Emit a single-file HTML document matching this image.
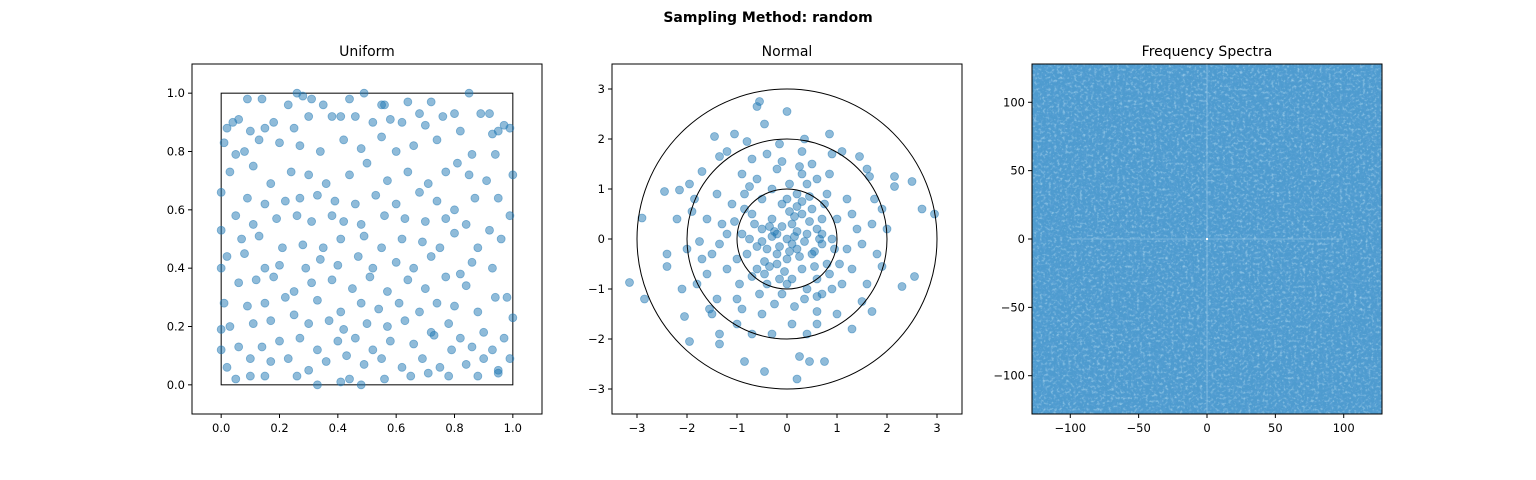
<!DOCTYPE html>
<html><head><meta charset="utf-8"><style>
body{margin:0;background:#fff;}
svg{display:block;font-family:"DejaVu Sans","Liberation Sans",sans-serif;}
</style></head><body>
<svg id="fig" width="1536" height="480" viewBox="0 0 1536 480">
<defs>
<filter id="noise" x="0" y="0" width="100%" height="100%" filterUnits="objectBoundingBox">
<feTurbulence type="fractalNoise" baseFrequency="0.3" numOctaves="2" seed="3" result="t"/>
<feColorMatrix in="t" type="matrix" values="0 0 0 0 0.1  0 0 0 0 0.35  0 0 0 0 0.66  3 0 0 0 -1.45"/>
</filter>
<filter id="noise2" x="0" y="0" width="100%" height="100%" filterUnits="objectBoundingBox">
<feTurbulence type="fractalNoise" baseFrequency="0.35" numOctaves="2" seed="11" result="t"/>
<feColorMatrix in="t" type="matrix" values="0 0 0 0 0.42  0 0 0 0 0.68  0 0 0 0 0.86  2 0 0 0 -1.05"/>
</filter>
<clipPath id="c1"><rect x="192" y="64" width="350" height="350"/></clipPath>
<clipPath id="c2"><rect x="612" y="64" width="350" height="350"/></clipPath>
</defs>
<text x="768" y="22" text-anchor="middle" font-size="14" font-weight="bold">Sampling Method: random</text>
<g id="p1"></g>
<g id="p2"></g>
<g id="p3"></g>
</svg>
<script>
const uniformX=[0.09,0.14,0.26,0.28,0.23,0.31,0.35,0.44,0.49,0.55,0.56,0.64,0.72,0.85,0.89,0.92,0.97,0.99,0.95,0.02,0.04,0.06,0.1,0.15,0.18,0.25,0.3,0.38,0.41,0.46,0.52,0.58,0.62,0.68,0.7,0.76,0.8,0.82,0.93,0.01,0.05,0.08,0.13,0.2,0.27,0.34,0.42,0.48,0.55,0.6,0.66,0.74,0.81,0.86,0.94,0.03,0.11,0.17,0.24,0.3,0.36,0.44,0.5,0.57,0.64,0.71,0.77,0.85,0.91,1.0,0.0,0.09,0.15,0.22,0.27,0.33,0.39,0.46,0.53,0.6,0.68,0.74,0.8,0.87,0.95,0.05,0.11,0.19,0.26,0.31,0.38,0.42,0.48,0.56,0.63,0.7,0.77,0.84,0.92,0.99,0.0,0.07,0.13,0.21,0.28,0.35,0.41,0.49,0.55,0.62,0.69,0.75,0.8,0.88,0.96,0.02,0.08,0.15,0.2,0.29,0.34,0.4,0.47,0.52,0.6,0.66,0.72,0.82,0.86,0.93,0.0,0.06,0.12,0.18,0.25,0.31,0.38,0.45,0.51,0.57,0.64,0.7,0.77,0.84,0.94,0.98,0.01,0.09,0.15,0.22,0.33,0.41,0.48,0.54,0.61,0.68,0.74,0.8,0.88,0.03,0.11,0.17,0.25,0.3,0.37,0.42,0.5,0.57,0.63,0.72,0.78,0.82,0.9,1.0,0.0,0.06,0.14,0.2,0.27,0.33,0.4,0.46,0.52,0.58,0.66,0.73,0.79,0.86,0.93,0.97,0.0,0.1,0.17,0.23,0.3,0.36,0.43,0.49,0.55,0.62,0.69,0.75,0.84,0.9,0.95,0.02,0.05,0.1,0.15,0.26,0.33,0.41,0.44,0.48,0.56,0.65,0.71,0.78,0.88,0.95,0.99];
const uniformY=[0.98,0.98,1.0,0.99,0.96,0.98,0.96,0.98,1.0,0.96,0.96,0.97,0.97,1.0,0.93,0.93,0.89,0.88,0.87,0.88,0.9,0.91,0.87,0.88,0.9,0.88,0.92,0.92,0.92,0.92,0.9,0.91,0.9,0.93,0.89,0.92,0.93,0.87,0.86,0.83,0.79,0.8,0.84,0.83,0.82,0.8,0.84,0.81,0.85,0.8,0.82,0.84,0.76,0.79,0.79,0.73,0.75,0.69,0.73,0.72,0.69,0.72,0.76,0.7,0.73,0.69,0.73,0.72,0.7,0.72,0.66,0.64,0.62,0.63,0.64,0.65,0.63,0.62,0.65,0.62,0.66,0.63,0.6,0.64,0.64,0.58,0.55,0.57,0.58,0.56,0.58,0.56,0.55,0.58,0.57,0.56,0.57,0.55,0.53,0.58,0.53,0.5,0.51,0.47,0.48,0.47,0.5,0.51,0.47,0.5,0.49,0.47,0.52,0.47,0.5,0.44,0.45,0.4,0.41,0.4,0.43,0.41,0.44,0.4,0.42,0.4,0.44,0.38,0.42,0.4,0.4,0.35,0.36,0.37,0.32,0.35,0.36,0.33,0.37,0.32,0.36,0.33,0.37,0.34,0.3,0.3,0.28,0.27,0.28,0.3,0.29,0.25,0.28,0.26,0.28,0.25,0.28,0.27,0.25,0.2,0.21,0.22,0.24,0.21,0.22,0.19,0.21,0.2,0.22,0.18,0.21,0.16,0.18,0.23,0.19,0.13,0.13,0.15,0.16,0.12,0.15,0.16,0.12,0.15,0.14,0.17,0.12,0.13,0.12,0.16,0.12,0.09,0.08,0.09,0.05,0.08,0.1,0.07,0.09,0.06,0.09,0.06,0.07,0.09,0.05,0.06,0.02,0.03,0.03,0.03,0.0,0.01,0.02,0.0,0.02,0.03,0.04,0.03,0.03,0.04,0.09];
const normalX=[-3.15,-2.9,-2.85,-2.45,-2.4,-2.4,-2.15,-2.1,-2.05,-1.95,-1.95,-1.9,-1.85,-1.75,-1.7,-1.45,-1.35,-1.55,-1.5,-1.35,-1.35,-1.2,-1.05,-1.0,-0.85,-0.8,-0.6,-0.55,-0.45,-0.45,-0.15,0.0,0.2,0.25,0.3,0.35,0.45,0.6,0.75,0.85,0.9,1.0,1.1,1.3,1.45,1.5,1.6,1.65,1.7,1.75,1.9,1.9,2.15,2.3,2.55,2.5,2.7,2.95,2.15,2.0,1.8,1.4,1.3,1.2,1.1,1.0,-1.1,-1.3,-1.5,-1.6,-1.2,-1.0,-0.9,-0.7,-0.5,-0.3,0.1,0.4,0.7,-1.8,-1.4,-2.2,-2.0,-0.9,-0.8,-0.7,-0.6,-0.5,-0.5,-0.4,-0.4,-0.3,-0.3,-0.2,-0.2,-0.1,-0.1,0.0,0.0,0.1,0.1,0.2,0.2,0.3,0.3,0.4,0.4,0.5,0.5,0.6,0.6,0.7,0.7,0.8,0.8,0.9,-0.6,-0.2,0.3,0.6,-1.0,-1.2,0.95,-0.15,0.15,-0.35,0.25,0.05,-0.05,0.45,-0.45,-0.75,0.55,-0.25,0.15,0.35,-0.55,-0.85,0.05,0.45,1.2,1.3,-1.4,-1.6,0.9,-0.95,0.1,-0.1,0.2,-0.2,0.35,-0.3,0.65,-0.6,0.0,0.0,0.75,-0.7,1.5,-1.35,0.85,-0.9,0.5,-0.4,0.6,-0.7,1.6,-1.7,1.7,-0.1,0.25,-0.65,0.55,-0.35,0.15,0.85,-0.85,0.4,-0.25,0.05,-0.5,0.3,0.7,-0.15,0.6,-0.75,1.05,-1.05,0.2,-0.45];
const normalY=[-0.87,0.42,-1.2,0.95,-0.3,-0.55,0.98,-1.0,-1.55,-2.05,1.1,0.55,0.8,-0.05,1.35,2.05,1.65,-1.4,-1.5,-2.1,-1.9,1.75,2.1,-1.7,-2.45,1.95,2.65,2.75,2.3,-2.65,1.9,2.55,-2.8,-2.35,1.75,2.0,-2.45,-1.45,-2.45,2.1,1.7,-1.5,1.75,-1.8,1.65,-1.25,1.4,1.25,-1.45,0.8,-0.55,0.6,1.25,-0.95,-0.75,1.15,0.6,0.5,1.05,0.2,-0.3,0.2,-0.6,0.8,-0.9,0.4,0.7,0.3,-0.3,-0.7,-0.6,-1.2,1.3,1.6,-1.5,-1.9,-1.7,-1.9,-1.1,-0.9,-1.2,0.4,-0.2,0.1,-0.3,0.5,-0.6,0.2,0.8,-0.2,-0.9,0.4,1.0,-0.5,0.1,0.7,-1.1,0.0,-0.4,0.3,-0.8,0.9,-0.2,0.5,-0.6,0.1,-1.0,0.6,-0.3,0.2,-0.8,0.4,-0.1,0.9,-0.5,0.0,1.2,1.4,1.3,1.2,-0.4,0.1,-0.2,-0.15,0.05,0.25,-0.35,0.55,-0.65,0.35,-0.45,0.0,-0.55,-1.3,-1.35,-1.2,-1.1,0.9,1.1,0.85,-0.2,0.5,0.9,0.4,-1.0,-0.9,-0.1,0.25,0.15,-0.3,-0.05,0.05,0.0,-0.15,0.8,-0.9,0.7,-0.75,-0.1,-0.1,1.3,-1.4,1.5,1.7,-1.7,-1.9,-0.9,-0.4,0.3,1.55,1.45,0.3,-0.25,-0.55,0.45,-0.7,0.6,1.1,0.15,-0.25,-0.05,0.75,0.1,-0.8,-1.15,1.05,-0.5,0.35,0.65,-0.7];
const uTicks=[0,0.2,0.4,0.6,0.8,1.0];
const uTickLabels=["0.0","0.2","0.4","0.6","0.8","1.0"];
const nTicks=[-3,-2,-1,0,1,2,3];
const nTickLabels=["−3","−2","−1","0","1","2","3"];
const circleRadii=[1,2,3];
const sTicks=[-100,-50,0,50,100];
const sTickLabels=["−100","−50","0","50","100"];

const NS="http://www.w3.org/2000/svg";
function mk(tag,attrs,parent){const e=document.createElementNS(NS,tag);for(const k in attrs)e.setAttribute(k,attrs[k]);parent.appendChild(e);return e;}
function lin(d0,d1,r0,r1){return v=>r0+(v-d0)/(d1-d0)*(r1-r0);}
const L=[192,612,1032],T=64,S=350;

function axes(g,x0,xs,ys,ticks,labels,tickY,labelsY,pre){
  mk('rect',{x:x0,y:T,width:S,height:S,fill:'none',stroke:'#000','stroke-width':1},g);
  ticks.forEach((t,i)=>{
    const px=xs(t);
    const tk=mk('line',{x1:px,x2:px,y1:T+S,y2:T+S+4,stroke:'#000'},g);
    
    
    const tx=mk('text',{x:px,y:T+S+18,'text-anchor':'middle','font-size':11.5},g);
    tx.textContent=labels[i];
    
    
  });
  tickY.forEach((t,i)=>{
    const py=ys(t);
    const tk=mk('line',{x1:x0-4,x2:x0,y1:py,y2:py,stroke:'#000'},g);
    
    
    const tx=mk('text',{x:x0-7,y:py+4,'text-anchor':'end','font-size':11.5},g);
    tx.textContent=labelsY[i];
    
    
  });
}
function title(g,x0,t,name){const e=mk('text',{x:x0+S/2,y:T-8,'text-anchor':'middle','font-size':14},g);e.textContent=t;}

(function(){
  const g=document.getElementById('p1');
  const xs=lin(-0.1,1.1,L[0],L[0]+S), ys=lin(-0.1,1.1,T+S,T);
  const sq=mk('rect',{x:xs(0),y:ys(1),width:xs(1)-xs(0),height:ys(0)-ys(1),fill:'none',stroke:'#000'},g);
  
  
  const pg=mk('g',{'clip-path':'url(#c1)'},g);
  uniformX.forEach((x,i)=>{
    const c=mk('circle',{cx:xs(x),cy:ys(uniformY[i]),r:4,fill:'#1f77b4','fill-opacity':0.5,stroke:'#1f77b4','stroke-opacity':0.5,'stroke-width':0.8},pg);
    
    
  });
  axes(g,L[0],xs,ys,uTicks,uTickLabels,uTicks,uTickLabels,'uniform-');
  title(g,L[0],'Uniform','uniform-title');
})();
(function(){
  const g=document.getElementById('p2');
  const xs=lin(-3.5,3.5,L[1],L[1]+S), ys=lin(-3.5,3.5,T+S,T);
  const pg=mk('g',{'clip-path':'url(#c2)'},g);
  normalX.forEach((x,i)=>{
    const c=mk('circle',{cx:xs(x),cy:ys(normalY[i]),r:4,fill:'#1f77b4','fill-opacity':0.5,stroke:'#1f77b4','stroke-opacity':0.5,'stroke-width':0.8},pg);
    
    
  });
  circleRadii.forEach(r=>{
    const c=mk('circle',{cx:xs(0),cy:ys(0),r:xs(r)-xs(0),fill:'none',stroke:'#000'},g);
    
    
  });
  axes(g,L[1],xs,ys,nTicks,nTickLabels,nTicks,nTickLabels,'normal-');
  title(g,L[1],'Normal','normal-title');
})();
(function(){
  const g=document.getElementById('p3');
  const xs=lin(-128,128,L[2],L[2]+S), ys=lin(-128,128,T+S,T);
  const bg=mk('rect',{x:L[2],y:T,width:S,height:S,fill:'#4e9bcf'},g);
  
  
  mk('rect',{x:L[2],y:T,width:S,height:S,fill:'#000',filter:'url(#noise)'},g);
  mk('rect',{x:L[2],y:T,width:S,height:S,fill:'#000',filter:'url(#noise2)'},g);
  const v=mk('line',{x1:xs(0),x2:xs(0),y1:ys(128),y2:ys(-128),stroke:'#9cc9e8','stroke-width':1,'stroke-opacity':0.6},g);
  
  
  const h=mk('line',{x1:xs(-100),x2:xs(100),y1:ys(0),y2:ys(0),stroke:'#9cc9e8','stroke-width':1,'stroke-opacity':0.5},g);
  
  
  mk('rect',{x:xs(0)-1,y:ys(0)-1,width:2,height:2,fill:'#fff'},g);
  axes(g,L[2],xs,ys,sTicks,sTickLabels,sTicks,sTickLabels,'spectrum-');
  title(g,L[2],'Frequency Spectra','spectrum-title');
})();
</script>
</body></html>
